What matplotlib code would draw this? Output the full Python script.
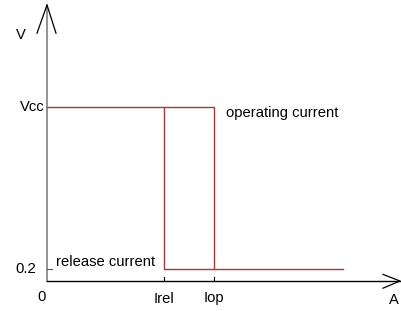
import numpy as np
import matplotlib
matplotlib.use("Agg")
import matplotlib.pyplot as plt

# levels (V) and currents (arbitrary units)
vcc = 2.9
v_low = 0.2
i_rel = 1.17
i_op = 1.67
i_end = 2.96

# operating branch: Vcc until Iop then drop
op_x = [0, i_op, i_op]
op_y = [vcc, vcc, v_low]
# release branch: rise at Irel
rel_x = [i_end, i_rel, i_rel]
rel_y = [v_low, v_low, vcc]

red = "#a33a3a"

fig = plt.figure(figsize=(4.01, 3.11), dpi=100)
ax = fig.add_axes([0, 0, 1, 1])
ax.set_xlim(-0.47, 3.54)
ax.set_ylim(-0.5, 4.683)
ax.axis("off")

# axes with open arrow heads
ax.plot([0, 0], [0, 4.6], color="#808080", lw=1.2)
ax.plot([-0.10, 0, 0.09], [4.13, 4.6, 4.13], color="black", lw=0.9)
ax.plot([0, 3.53], [0, 0], color="black", lw=1.0)
ax.plot([3.36, 3.53, 3.36], [0.11, 0, -0.12], color="black", lw=0.9)

# ticks
ax.plot([0, 0.05], [v_low, v_low], color="#555555", lw=0.8)
for xt in [i_rel, i_op]:
    ax.plot([xt, xt], [0, 0.06], color="black", lw=0.8)

ax.plot(op_x, op_y, color=red, lw=1.0)
ax.plot(rel_x, rel_y, color=red, lw=1.0)

fs = 10.6
fam = "Liberation Sans"
ax.text(-0.26, 4.1, "V", ha="center", va="center", fontsize=fs, family=fam)
ax.text(-0.02, vcc, "Vcc", ha="right", va="center", fontsize=fs, family=fam)
ax.text(-0.11, v_low, "0.2", ha="right", va="center", fontsize=fs, family=fam)
ax.text(-0.05, -0.27, "0", ha="center", va="center", fontsize=fs, family=fam)
ax.text(i_rel, -0.3, "Irel", ha="center", va="center", fontsize=fs, family=fam)
ax.text(i_op, -0.28, "Iop", ha="center", va="center", fontsize=fs, family=fam)
ax.text(3.47, -0.32, "A", ha="center", va="center", fontsize=fs, family=fam)
ax.text(1.79, vcc - 0.1, "operating current", ha="left", va="center", fontsize=fs, family=fam)
ax.text(0.09, v_low + 0.12, "release current", ha="left", va="center", fontsize=fs, family=fam)

fig.savefig("out.png", dpi=100)
